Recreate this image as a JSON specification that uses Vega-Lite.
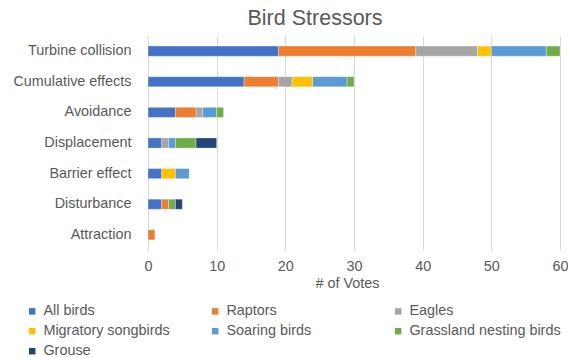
{
  "$schema": "https://vega.github.io/schema/vega-lite/v6.json",
  "autosize": {"type": "none"},
  "width": 412,
  "height": 214,
  "padding": {"left": 148, "top": 36, "right": 8, "bottom": 107},
  "background": "white",
  "title": {
    "text": "Bird Stressors",
    "anchor": "middle",
    "dx": -39,
    "offset": 7,
    "fontSize": 21.5,
    "font": "Liberation Sans",
    "fontWeight": "normal",
    "color": "#595959"
  },
  "config": {
    "view": {"stroke": null},
    "font": "Liberation Sans"
  },
  "data": {
    "values": [
      {"stressor": "Turbine collision", "group": "All birds", "votes": 19},
      {"stressor": "Turbine collision", "group": "Raptors", "votes": 20},
      {"stressor": "Turbine collision", "group": "Eagles", "votes": 9},
      {"stressor": "Turbine collision", "group": "Migratory songbirds", "votes": 2},
      {"stressor": "Turbine collision", "group": "Soaring birds", "votes": 8},
      {"stressor": "Turbine collision", "group": "Grassland nesting birds", "votes": 2},
      {"stressor": "Cumulative effects", "group": "All birds", "votes": 14},
      {"stressor": "Cumulative effects", "group": "Raptors", "votes": 5},
      {"stressor": "Cumulative effects", "group": "Eagles", "votes": 2},
      {"stressor": "Cumulative effects", "group": "Migratory songbirds", "votes": 3},
      {"stressor": "Cumulative effects", "group": "Soaring birds", "votes": 5},
      {"stressor": "Cumulative effects", "group": "Grassland nesting birds", "votes": 1},
      {"stressor": "Avoidance", "group": "All birds", "votes": 4},
      {"stressor": "Avoidance", "group": "Raptors", "votes": 3},
      {"stressor": "Avoidance", "group": "Eagles", "votes": 1},
      {"stressor": "Avoidance", "group": "Soaring birds", "votes": 2},
      {"stressor": "Avoidance", "group": "Grassland nesting birds", "votes": 1},
      {"stressor": "Displacement", "group": "All birds", "votes": 2},
      {"stressor": "Displacement", "group": "Eagles", "votes": 1},
      {"stressor": "Displacement", "group": "Soaring birds", "votes": 1},
      {"stressor": "Displacement", "group": "Grassland nesting birds", "votes": 3},
      {"stressor": "Displacement", "group": "Grouse", "votes": 3},
      {"stressor": "Barrier effect", "group": "All birds", "votes": 2},
      {"stressor": "Barrier effect", "group": "Migratory songbirds", "votes": 2},
      {"stressor": "Barrier effect", "group": "Soaring birds", "votes": 2},
      {"stressor": "Disturbance", "group": "All birds", "votes": 2},
      {"stressor": "Disturbance", "group": "Raptors", "votes": 1},
      {"stressor": "Disturbance", "group": "Grassland nesting birds", "votes": 1},
      {"stressor": "Disturbance", "group": "Grouse", "votes": 1},
      {"stressor": "Attraction", "group": "Raptors", "votes": 1}
    ]
  },
  "transform": [
    {"calculate": "indexof(['All birds', 'Raptors', 'Eagles', 'Migratory songbirds', 'Soaring birds', 'Grassland nesting birds', 'Grouse'], datum.group)", "as": "series_order"}
  ],
  "mark": {"type": "bar", "stroke": "white", "strokeWidth": 0.5, "strokeOpacity": 0.6},
  "encoding": {
    "y": {
      "field": "stressor",
      "type": "nominal",
      "sort": ["Turbine collision", "Cumulative effects", "Avoidance", "Displacement", "Barrier effect", "Disturbance", "Attraction"],
      "scale": {"paddingInner": 0.67, "paddingOuter": 0.33},
      "axis": {
        "title": null,
        "ticks": false,
        "domain": false,
        "labelPadding": 17,
        "labelFontSize": 14.4,
        "labelColor": "#595959"
      }
    },
    "x": {
      "field": "votes",
      "type": "quantitative",
      "stack": "zero",
      "scale": {"domain": [0, 60], "nice": false},
      "axis": {
        "title": "# of Votes",
        "values": [0, 10, 20, 30, 40, 50, 60],
        "ticks": false,
        "domain": false,
        "grid": true,
        "gridColor": "#D9D9D9",
        "gridWidth": 1,
        "labelFlush": false,
        "labelPadding": 9,
        "labelFontSize": 14.4,
        "labelColor": "#595959",
        "titleFontSize": 14.4,
        "titleFontWeight": "normal",
        "titleColor": "#595959",
        "titlePadding": 4,
        "titleX": 199
      }
    },
    "order": {"field": "series_order", "type": "quantitative", "sort": "ascending"},
    "color": {
      "field": "group",
      "type": "nominal",
      "sort": ["All birds", "Raptors", "Eagles", "Migratory songbirds", "Soaring birds", "Grassland nesting birds", "Grouse"],
      "scale": {
        "domain": ["All birds", "Raptors", "Eagles", "Migratory songbirds", "Soaring birds", "Grassland nesting birds", "Grouse"],
        "range": ["#4472C4", "#ED7D31", "#A5A5A5", "#FFC000", "#5B9BD5", "#70AD47", "#264478"]
      },
      "legend": {
        "title": null,
        "orient": "none",
        "legendX": -123,
        "legendY": 268,
        "direction": "horizontal",
        "columns": 3,
        "gridAlign": "all",
        "columnPadding": 13,
        "rowPadding": 5,
        "symbolType": "square",
        "symbolSize": 42,
        "symbolStrokeWidth": 0,
        "symbolOffset": 0,
        "labelOffset": 4,
        "labelFontSize": 14.4,
        "labelColor": "#595959",
        "labelLimit": 300
      }
    }
  }
}
